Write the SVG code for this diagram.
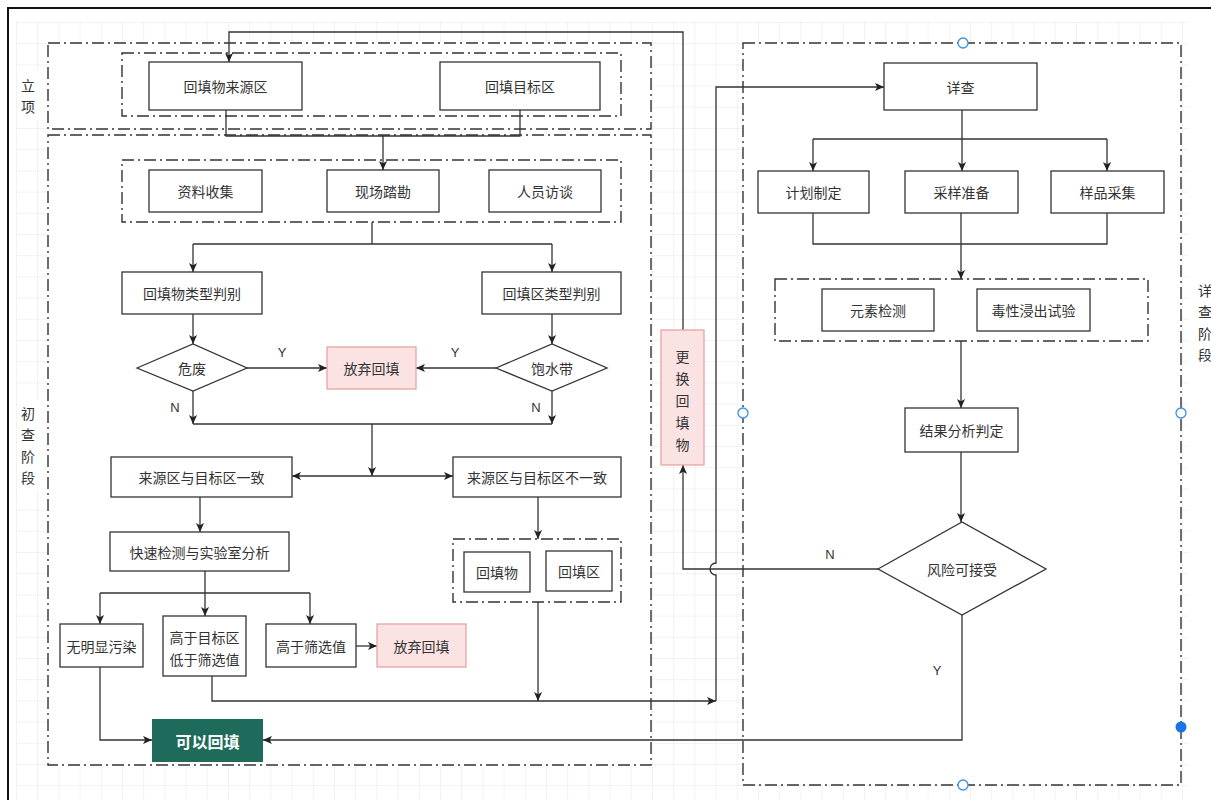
<svg xmlns="http://www.w3.org/2000/svg" width="1211" height="800" viewBox="0 0 1211 800">
<defs>
<style>
.t{font-family:"Noto Sans CJK SC","Liberation Sans",sans-serif;font-size:14px;fill:#333;text-anchor:middle;dominant-baseline:central}
.yn{font-family:"Liberation Sans","Noto Sans",sans-serif;font-size:13px;fill:#333;text-anchor:middle;dominant-baseline:central}
.lbl{font-family:"Noto Sans CJK SC",sans-serif;font-size:14px;fill:#333;text-anchor:middle;dominant-baseline:central}
.box{fill:#fff;stroke:#333;stroke-width:1.3}
.pink{fill:#fbe3e3;stroke:#eaa3a3;stroke-width:1.3}
.grp{fill:#fff;stroke:#333;stroke-width:1.4;stroke-dasharray:12 4 2 4}
.ln{fill:none;stroke:#333;stroke-width:1.3}
.ar{fill:none;stroke:#333;stroke-width:1.3;marker-end:url(#arr)}
.h{fill:#fff;stroke:#3b8fe3;stroke-width:1.3}
</style>
<marker id="arr" viewBox="0 0 10 10" refX="10" refY="5" markerWidth="9" markerHeight="9" markerUnits="userSpaceOnUse" orient="auto">
<path d="M0,0.5 L10,5 L0,9.5 L2.5,5 z" fill="#222"/>
</marker>
<pattern id="grid" x="16" y="22" width="21.2" height="21.2" patternUnits="userSpaceOnUse">
<path d="M0,0 H21.2 M0,0 V21.2" stroke="#e6e6e6" stroke-width="1" fill="none"/>
</pattern>
</defs>
<rect x="0" y="0" width="1211" height="800" fill="#fff"/>
<rect x="16" y="22" width="1173" height="778" fill="url(#grid)"/>
<rect x="8" y="8" width="1215" height="800" fill="none" stroke="#111" stroke-width="2"/>

<g id="containers">
<rect class="grp" x="48" y="43" width="603" height="86"/>
<rect class="grp" x="48" y="135" width="603" height="630"/>
<rect class="grp" x="743" y="43" width="438" height="742"/>
<rect class="grp" x="122" y="53" width="499" height="63"/>
<rect class="grp" x="122" y="160" width="499" height="62"/>
<rect class="grp" x="453" y="539" width="168" height="63"/>
<rect class="grp" x="775" y="279" width="373" height="62"/>
</g>

<g id="labels">
<rect x="17" y="70" width="28" height="50" fill="#fff"/>
<text class="lbl" x="28" y="85">立</text>
<text class="lbl" x="28" y="106">项</text>
<rect x="17" y="400" width="28" height="90" fill="#fff"/>
<text class="lbl" x="28" y="413">初</text>
<text class="lbl" x="28" y="434">查</text>
<text class="lbl" x="28" y="456">阶</text>
<text class="lbl" x="28" y="477">段</text>
<text class="lbl" x="1205" y="290">详</text>
<text class="lbl" x="1205" y="311">查</text>
<text class="lbl" x="1205" y="333">阶</text>
<text class="lbl" x="1205" y="354">段</text>
</g>

<g id="connectors">
<path class="ln" d="M226,110 V136 H520 V110"/>
<path class="ar" d="M383,136 V170"/>
<path class="ln" d="M372,222 V244 M193,244 H552"/>
<path class="ar" d="M193,244 V272"/>
<path class="ar" d="M552,244 V272"/>
<path class="ar" d="M193,314 V344"/>
<path class="ar" d="M552,314 V344"/>
<path class="ar" d="M247,368 H327"/>
<path class="ar" d="M496,368 H416"/>
<path class="ar" d="M193,391 V424"/>
<path class="ar" d="M552,391 V424"/>
<path class="ln" d="M193,424 H552"/>
<path class="ar" d="M372,424 V476"/>
<path class="ar" d="M372,476 H292"/>
<path class="ar" d="M372,476 H453"/>
<path class="ar" d="M200,497 V532"/>
<path class="ar" d="M538,497 V539"/>
<path class="ln" d="M205,571 V593 M100,593 H310"/>
<path class="ar" d="M100,593 V624"/>
<path class="ar" d="M205,593 V616"/>
<path class="ar" d="M310,593 V624"/>
<path class="ar" d="M356,646 H377"/>
<path class="ar" d="M100,667 V740 H152"/>
<path class="ar" d="M212,676 V701 H716"/>
<path class="ar" d="M538,602 V701"/>
<path class="ar" d="M716,701 V575 A6,6 0 0,1 716,563 V87 H884"/>
<path class="ar" d="M683,330 V32 H229 V62"/>
<path class="ln" d="M962,110 V139 M813,139 H1107"/>
<path class="ar" d="M813,139 V171"/>
<path class="ar" d="M962,139 V171"/>
<path class="ar" d="M1107,139 V171"/>
<path class="ln" d="M813,213 V244 H1107 V213"/>
<path class="ar" d="M961,213 V279"/>
<path class="ar" d="M961,341 V408"/>
<path class="ar" d="M961,452 V522"/>
<path class="ar" d="M878,569 H683 V465"/>
<path class="ar" d="M962,615 V740 H263"/>
<text class="yn" x="282" y="352">Y</text>
<text class="yn" x="455" y="352">Y</text>
<text class="yn" x="175" y="407">N</text>
<text class="yn" x="536" y="407">N</text>
<text class="yn" x="830" y="554">N</text>
<text class="yn" x="937" y="670">Y</text>
</g>

<g id="n-source"><rect class="box" x="149" y="62" width="153" height="48"/><text class="t" x="225.5" y="86">回填物来源区</text></g>
<g id="n-target"><rect class="box" x="440" y="62" width="160" height="48"/><text class="t" x="520" y="86">回填目标区</text></g>
<g id="n-collect"><rect class="box" x="149" y="170" width="113" height="42"/><text class="t" x="205.5" y="191">资料收集</text></g>
<g id="n-survey"><rect class="box" x="327" y="170" width="112" height="42"/><text class="t" x="383" y="191">现场踏勘</text></g>
<g id="n-interview"><rect class="box" x="489" y="170" width="112" height="42"/><text class="t" x="545" y="191">人员访谈</text></g>
<g id="n-type1"><rect class="box" x="122" y="272" width="140" height="42"/><text class="t" x="192" y="293">回填物类型判别</text></g>
<g id="n-type2"><rect class="box" x="482" y="272" width="139" height="42"/><text class="t" x="551.5" y="293">回填区类型判别</text></g>
<g id="n-haz"><path class="box" d="M137,368 L193,344 L247,368 L193,391 Z"/><text class="t" x="192" y="368">危废</text></g>
<g id="n-sat"><path class="box" d="M496,368 L552,344 L607,368 L552,391 Z"/><text class="t" x="552" y="368">饱水带</text></g>
<g id="n-abandon1"><rect class="pink" x="327" y="347" width="89" height="42"/><text class="t" x="371.5" y="368">放弃回填</text></g>
<g id="n-same"><rect class="box" x="111" y="457" width="181" height="40"/><text class="t" x="201.5" y="477">来源区与目标区一致</text></g>
<g id="n-diff"><rect class="box" x="453" y="457" width="168" height="40"/><text class="t" x="537" y="477">来源区与目标区不一致</text></g>
<g id="n-fast"><rect class="box" x="110" y="532" width="179" height="39"/><text class="t" x="199.5" y="551.5">快速检测与实验室分析</text></g>
<g id="n-fill"><rect class="box" x="464" y="552" width="66" height="40"/><text class="t" x="497" y="572">回填物</text></g>
<g id="n-area"><rect class="box" x="546" y="551" width="66" height="40"/><text class="t" x="579" y="571">回填区</text></g>
<g id="n-clean"><rect class="box" x="60" y="624" width="83" height="43"/><text class="t" x="101.5" y="645.5">无明显污染</text></g>
<g id="n-mid"><rect class="box" x="163" y="616" width="83" height="60"/><text class="t" x="204.5" y="637">高于目标区</text><text class="t" x="204.5" y="659">低于筛选值</text></g>
<g id="n-high"><rect class="box" x="266" y="624" width="90" height="43"/><text class="t" x="311" y="645.5">高于筛选值</text></g>
<g id="n-abandon2"><rect class="pink" x="377" y="624" width="89" height="43"/><text class="t" x="421.5" y="645.5">放弃回填</text></g>
<g id="n-ok"><rect x="152" y="719" width="111" height="43" fill="#1f6b5b"/><text class="t" x="207.5" y="740.5" style="fill:#fff;font-size:16px;font-weight:bold">可以回填</text></g>
<g id="n-replace"><rect class="pink" x="661" y="330" width="43" height="135"/>
<text class="t" x="682.5" y="356">更</text><text class="t" x="682.5" y="378">换</text><text class="t" x="682.5" y="400">回</text><text class="t" x="682.5" y="422">填</text><text class="t" x="682.5" y="444">物</text></g>
<g id="n-detail"><rect class="box" x="884" y="63" width="153" height="47"/><text class="t" x="960.5" y="87">详查</text></g>
<g id="n-plan"><rect class="box" x="758" y="171" width="111" height="42"/><text class="t" x="813.5" y="192">计划制定</text></g>
<g id="n-prep"><rect class="box" x="905" y="171" width="113" height="42"/><text class="t" x="961.5" y="192">采样准备</text></g>
<g id="n-sample"><rect class="box" x="1051" y="171" width="113" height="42"/><text class="t" x="1107.5" y="192">样品采集</text></g>
<g id="n-elem"><rect class="box" x="822" y="289" width="112" height="42"/><text class="t" x="878" y="310">元素检测</text></g>
<g id="n-tox"><rect class="box" x="977" y="289" width="113" height="42"/><text class="t" x="1033.5" y="310">毒性浸出试验</text></g>
<g id="n-result"><rect class="box" x="905" y="408" width="113" height="44"/><text class="t" x="961.5" y="430">结果分析判定</text></g>
<g id="n-risk"><path class="box" d="M878,569 L962,522 L1046,569 L962,615 Z"/><text class="t" x="962" y="569">风险可接受</text></g>

<g id="handles">
<circle class="h" cx="963" cy="43" r="5"/>
<circle class="h" cx="743" cy="413" r="5"/>
<circle class="h" cx="1181" cy="413" r="5"/>
<circle class="h" cx="963" cy="785" r="5"/>
<circle cx="1181" cy="727" r="5.5" fill="#1a73e8"/>
</g>
</svg>
